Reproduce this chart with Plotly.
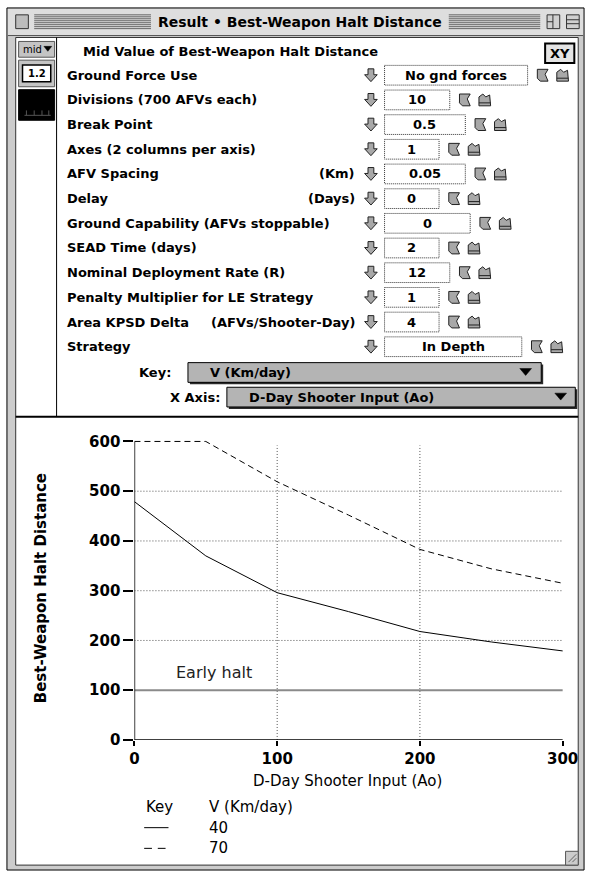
import plotly.graph_objects as go

W, H = 597, 881

# ---------------- data ----------------
ao = [0, 50, 100, 150, 200, 250, 300]
halt_v40 = [479, 370, 296, 258, 218, 197, 179]
halt_v70 = [600, 600, 519, 452, 383, 344, 315]
key_values = ["40", "70"]
x_ticks = [0, 100, 200, 300]
y_ticks = [0, 100, 200, 300, 400, 500, 600]
grid_y = [200, 300, 400, 500]
grid_x = [100, 200]
early_halt = 100

param_labels = ["Ground Force Use", "Divisions (700 AFVs each)", "Break Point",
                "Axes (2 columns per axis)", "AFV Spacing", "Delay",
                "Ground Capability (AFVs stoppable)", "SEAD Time (days)",
                "Nominal Deployment Rate (R)", "Penalty Multiplier for LE Strategy",
                "Area KPSD Delta", "Strategy"]
param_units = ["", "", "", "", "(Km)", "(Days)", "", "", "", "", "(AFVs/Shooter-Day)", ""]
param_values = ["No gnd forces", "10", "0.5", "1", "0.05", "0", "0", "2", "12", "1", "4", "In Depth"]
box_right = [537, 457, 473, 446, 473, 446, 478, 446, 457, 446, 446, 531]

UI = "DejaVu Sans"


def px(x):
    return x / W


def py(y):
    return 1 - y / H


shapes = []
annotations = []


def rect(x0, y0, x1, y1, fill=None, line="black", width=1, dash=None, layer="below"):
    ln = dict(color=line, width=width)
    if dash:
        ln["dash"] = dash
    if line is None:
        ln = dict(width=0)
    shapes.append(dict(type="rect", xref="paper", yref="paper", x0=px(x0), x1=px(x1),
                       y0=py(y0), y1=py(y1), fillcolor=fill or "rgba(0,0,0,0)",
                       line=ln, layer=layer))


def seg(x0, y0, x1, y1, color="black", width=1, dash=None, layer="below"):
    ln = dict(color=color, width=width)
    if dash:
        ln["dash"] = dash
    shapes.append(dict(type="line", xref="paper", yref="paper", x0=px(x0), x1=px(x1),
                       y0=py(y0), y1=py(y1), line=ln, layer=layer))


def poly(pts, fill="#a8a8a8", line="black", width=1, layer="above"):
    d = "M " + " L ".join(f"{px(a):.5f},{py(b):.5f}" for a, b in pts) + " Z"
    shapes.append(dict(type="path", xref="paper", yref="paper", path=d,
                       fillcolor=fill, line=dict(color=line, width=width), layer=layer))


def text(x, y, s, size=13, bold=True, anchor="left", color="black", family=UI, angle=0):
    annotations.append(dict(xref="paper", yref="paper", x=px(x), y=py(y), text=s,
                            showarrow=False, xanchor=anchor, yanchor="middle",
                            textangle=angle,
                            font=dict(family=family, size=size, color=color,
                                      weight="bold" if bold else "normal")))


# ---------------- window chrome ----------------
rect(2, 4, 595, 879, fill="#cccccc", line="black")
rect(3, 5, 594, 32, fill="#dedede", line=None)
seg(3, 32, 594, 32, color="#555555")
for yy in range(11, 26, 2):
    seg(30, yy, 150, yy, color="#666666")
    seg(456, yy, 550, yy, color="#666666")
rect(11, 11, 24, 25, fill="#bdbdbd", line="#333333")
rect(557, 11, 570, 25, fill="#d0d0d0", line="#333333")
seg(563, 11, 563, 25, color="#333333")
seg(557, 18, 563, 18, color="#333333")
rect(577, 11, 590, 25, fill="#d0d0d0", line="#333333")
seg(577, 16, 590, 16, color="#333333")
seg(577, 20, 590, 20, color="#333333")
text(303, 18.5, "Result • Best-Weapon Halt Distance", size=14, bold=True, anchor="center")

# content area
rect(11, 34, 589, 874, fill="white", line="#333333")
seg(53, 34, 53, 419, color="black")
seg(11, 419, 589, 419, color="black", width=2)
# left tool buttons
rect(14, 38, 51, 54, fill="#c4c4c4", line="#555555")
text(16, 46, "mid", size=10, bold=False)
poly([(40, 43), (48, 43), (44, 48)], fill="black", line="black", width=0.5)
rect(14, 57, 51, 84, fill="#c4c4c4", line="#555555")
rect(18, 62, 47, 79, fill="white", line="black", width=1.5)
text(32.5, 70.5, "1.2", size=10, bold=True, anchor="center")
rect(14, 87, 51, 118, fill="black", line="black")
for xx in (22, 30, 38, 45):
    seg(xx, 108, xx, 113, color="#555555")
seg(20, 113, 47, 113, color="#555555")

# header
text(78, 48, "Mid Value of Best-Weapon Halt Distance", size=13)
rect(555, 40, 585, 60, fill="#e4e4e4", line="black", width=2)
text(570, 50, "XY", size=13, anchor="center")

# parameter rows
for i, lab in enumerate(param_labels):
    yc = 72.3 + 25.05 * i
    text(62, yc, lab, size=13)
    if param_units[i]:
        text(362, yc, param_units[i], size=13, anchor="right")
    cx = 376
    t = yc - 6.5
    poly([(cx - 3, t), (cx + 3, t), (cx + 3, t + 6), (cx + 6.5, t + 6), (cx, t + 13),
          (cx - 6.5, t + 6), (cx - 3, t + 6)], fill="#a8a8a8", line="#222222")
    r = box_right[i]
    rect(390, yc - 10, r, yc + 10, fill="white", line="#333333", width=1, dash="1px,1px")
    text((390 + r) / 2, yc, param_values[i], size=13, anchor="center")
    a = r + 10
    poly([(a, yc - 6), (a + 11, yc - 6), (a + 8, yc - 1), (a + 11, yc + 6),
          (a + 3, yc + 6), (a, yc + 3)], fill="#a8a8a8", line="#222222")
    b = r + 30
    poly([(b, yc - 3), (b + 4, yc - 6), (b + 7, yc - 3), (b + 11, yc - 5),
          (b + 12, yc + 6), (b, yc + 6)], fill="#a8a8a8", line="#222222")
    seg(b, yc + 3, b + 12, yc + 3, color="#222222", layer="above")

# dropdowns
text(173, 374, "Key:", size=13, anchor="right")
rect(190, 366, 553, 386, fill="#2b2b2b", line=None)
rect(188, 364, 551, 384, fill="#b4b4b4", line="black")
text(209, 374, "V (Km/day)", size=13)
poly([(529, 370), (541, 370), (535, 377)], fill="black", line="black", width=0.5)

text(223, 399, "X Axis:", size=13, anchor="right")
rect(230, 391, 588, 411, fill="#2b2b2b", line=None)
rect(228, 389, 586, 409, fill="#b4b4b4", line="black")
text(249, 399, "D-Day Shooter Input (Ao)", size=13)
poly([(565, 395), (577, 395), (571, 402)], fill="black", line="black", width=0.5)

# resize grip
rect(576, 860, 589, 874, fill="#cccccc", line="#555555")
for k in (0, 4, 8):
    seg(579 + k, 871, 587, 863 + k, color="#666666")

# ---------------- chart ----------------
X0, X300 = 133.0, 573.0
Y0, Y600 = 747.0, 444.0
xpu = (X300 - X0) / 300
ypu = (Y0 - Y600) / 600
xr = [0, 303]
yr = [0, 610]
xdom = [px(X0), px(X0 + xr[1] * xpu)]
ydom = [py(Y0), py(Y0 - yr[1] * ypu)]

fig = go.Figure()
fig.add_trace(go.Scatter(x=ao, y=halt_v40, mode="lines", name="40",
                         line=dict(color="black", width=1), showlegend=False))
fig.add_trace(go.Scatter(x=ao, y=halt_v70, mode="lines", name="70",
                         line=dict(color="black", width=1, dash="6px,4px"), showlegend=False))

for g in grid_y:
    shapes.append(dict(type="line", xref="x", yref="y", x0=0, x1=300, y0=g, y1=g,
                       line=dict(color="#555555", width=1, dash="1px,2px"), layer="below"))
for g in grid_x:
    shapes.append(dict(type="line", xref="x", yref="y", x0=g, x1=g, y0=0, y1=592,
                       line=dict(color="#555555", width=1, dash="1px,2px"), layer="below"))
shapes.append(dict(type="line", xref="x", yref="y", x0=0, x1=300, y0=early_halt, y1=early_halt,
                   line=dict(color="#8a8a8a", width=2), layer="below"))
shapes.append(dict(type="line", xref="x", yref="y", x0=0, x1=0, y0=0, y1=600,
                   line=dict(color="black", width=1.5), layer="above"))
shapes.append(dict(type="line", xref="x", yref="y", x0=0, x1=300, y0=0, y1=0,
                   line=dict(color="black", width=1.5), layer="above"))

annotations.append(dict(xref="x", yref="y", x=56, y=135, text="Early halt", showarrow=False,
                        xanchor="center", yanchor="middle",
                        font=dict(family=UI, size=16, color="#222222")))

text(37, 593, "Best-Weapon Halt Distance", size=15, bold=True, anchor="center", angle=-90)
text(352, 789, "D-Day Shooter Input (Ao)", size=15, bold=False, anchor="center")

text(143, 815, "Key", size=15, bold=False)
text(208, 815, "V (Km/day)", size=15, bold=False)
text(208, 836, key_values[0], size=15, bold=False)
text(208, 857, key_values[1], size=15, bold=False)
seg(143, 836, 168, 836, color="black", width=1)
seg(143, 857, 151, 857, color="black", width=1)
seg(157, 857, 165, 857, color="black", width=1)

fig.update_layout(
    width=W, height=H, margin=dict(l=0, r=0, t=0, b=0),
    paper_bgcolor="white", plot_bgcolor="rgba(0,0,0,0)",
    showlegend=False,
    xaxis=dict(domain=xdom, range=xr, tickvals=x_ticks, ticks="outside", ticklen=5,
               tickwidth=1.5, tickcolor="black", showgrid=False, zeroline=False,
               showline=False, fixedrange=True,
               tickfont=dict(family=UI, size=15, color="black", weight="bold")),
    yaxis=dict(domain=ydom, range=yr, tickvals=y_ticks, ticks="outside", ticklen=10,
               tickwidth=1.5, tickcolor="black", showgrid=False, zeroline=False,
               showline=False, fixedrange=True,
               tickfont=dict(family=UI, size=15, color="black", weight="bold")),
    shapes=shapes, annotations=annotations,
)

css_fix = ("var s=document.createElement('style');"
           "s.textContent='html,body{margin:0;padding:0;overflow:hidden;}';"
           "document.head.appendChild(s);")
fig.write_html("out.html", config=dict(displayModeBar=False), post_script=css_fix)
